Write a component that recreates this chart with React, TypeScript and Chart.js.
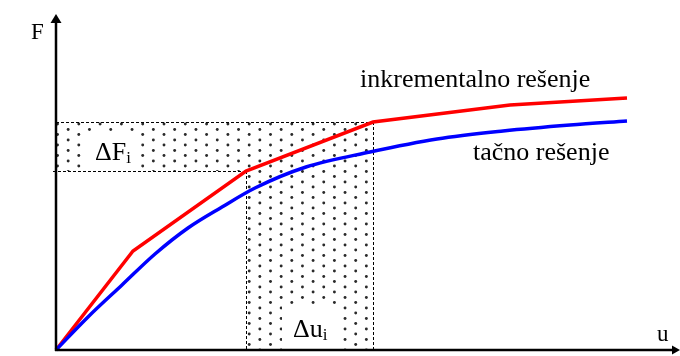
import React, { useEffect, useRef } from "react";
import { Chart, registerables } from "chart.js";

Chart.register(...registerables);

// Incremental (piecewise linear) solution: displacement u, force F
const redU = [0, 77, 190, 317, 454, 571];
const redF = [0, 99, 179, 228, 245, 252];

// Exact solution (smooth curve)
const blueU = [0, 32, 66, 99, 132, 166, 199, 250, 314, 381, 447, 514, 571];
const blueF = [0, 33, 65, 96, 122, 143, 162, 183, 198, 211, 219, 225, 229];

// Axis extents
const uMax = 624;
const fMax = 336;

// Highlighted increment step (index into redU/redF)
const stepIndex = 2;

// Texts
const curveLabels = ["inkrementalno rešenje", "tačno rešenje"];
const axisLabels = ["F", "u"];
const deltaLabels = ["ΔF", "Δu"];
const subscript = "i";

const SERIF = "'Liberation Serif', 'Times New Roman', serif";

export default function App() {
  const ref = useRef<HTMLCanvasElement>(null);

  useEffect(() => {
    document.body.style.margin = "0";
    const canvas = ref.current!;

    const decor = {
      id: "decor",
      beforeDatasetsDraw(chart: any) {
        const ctx = chart.ctx as CanvasRenderingContext2D;
        const xs = chart.scales.x;
        const ys = chart.scales.y;
        const x0 = xs.getPixelForValue(0);
        const y0 = ys.getPixelForValue(0);
        const xa = xs.getPixelForValue(redU[stepIndex]);
        const xb = xs.getPixelForValue(redU[stepIndex + 1]);
        const ya = ys.getPixelForValue(redF[stepIndex]);
        const yb = ys.getPixelForValue(redF[stepIndex + 1]);

        // dotted fill
        ctx.save();
        ctx.beginPath();
        ctx.rect(x0, yb, xb - x0, ya - yb);
        ctx.rect(xa, ya, xb - xa, y0 - ya);
        ctx.clip();
        ctx.fillStyle = "#2a2a2a";
        const sx = 10.65;
        const sy = 10.5;
        let col = 0;
        for (let x = x0 + 1.5; x < xb + 2; x += sx, col++) {
          const phase = col % 2 === 0 ? 2 : 7.5;
          for (let y = yb + phase; y < y0 + 2; y += sy) {
            ctx.beginPath();
            ctx.arc(x, y, 1.45, 0, Math.PI * 2);
            ctx.fill();
          }
        }
        ctx.restore();

        // white boxes for labels
        ctx.save();
        ctx.fillStyle = "#ffffff";
        ctx.fillRect(x0 + 26, yb + 9, 58, ya - yb - 9);
        ctx.fillRect(xa + 36, y0 - 45, 56, 45);
        ctx.restore();

        // dashed outline
        ctx.save();
        ctx.strokeStyle = "#000";
        ctx.lineWidth = 1;
        ctx.setLineDash([3, 2]);
        ctx.beginPath();
        ctx.moveTo(x0, yb + 0.5);
        ctx.lineTo(xb, yb + 0.5);
        ctx.moveTo(x0 - 3, ya + 0.5);
        ctx.lineTo(xa, ya + 0.5);
        ctx.moveTo(xa + 0.5, ya);
        ctx.lineTo(xa + 0.5, y0);
        ctx.moveTo(xb + 0.5, yb);
        ctx.lineTo(xb + 0.5, y0);
        ctx.stroke();
        ctx.restore();

        // delta labels
        ctx.save();
        ctx.fillStyle = "#000";
        ctx.textBaseline = "alphabetic";
        ctx.font = `26px ${SERIF}`;
        ctx.fillText(deltaLabels[0], x0 + 39, ya - 11);
        let w = ctx.measureText(deltaLabels[0]).width;
        ctx.font = `17px ${SERIF}`;
        ctx.fillText(subscript, x0 + 39 + w, ya - 8);
        ctx.font = `26px ${SERIF}`;
        ctx.fillText(deltaLabels[1], xa + 47, y0 - 13);
        w = ctx.measureText(deltaLabels[1]).width;
        ctx.font = `17px ${SERIF}`;
        ctx.fillText(subscript, xa + 47 + w, y0 - 10);
        ctx.restore();
      },
      afterDatasetsDraw(chart: any) {
        const ctx = chart.ctx as CanvasRenderingContext2D;
        const xs = chart.scales.x;
        const ys = chart.scales.y;
        const x0 = xs.getPixelForValue(0);
        const y0 = ys.getPixelForValue(0);
        const xEnd = xs.getPixelForValue(uMax);
        const yEnd = ys.getPixelForValue(fMax);

        // axes
        ctx.save();
        ctx.strokeStyle = "#000";
        ctx.fillStyle = "#000";
        ctx.lineWidth = 2.5;
        ctx.beginPath();
        ctx.moveTo(x0, y0 + 1);
        ctx.lineTo(x0, yEnd + 8);
        ctx.moveTo(x0 - 1, y0);
        ctx.lineTo(xEnd - 7, y0);
        ctx.stroke();
        ctx.beginPath();
        ctx.moveTo(x0, yEnd);
        ctx.lineTo(x0 - 5.5, yEnd + 9);
        ctx.lineTo(x0 + 5.5, yEnd + 9);
        ctx.closePath();
        ctx.fill();
        ctx.beginPath();
        ctx.moveTo(xEnd, y0);
        ctx.lineTo(xEnd - 8, y0 - 4.5);
        ctx.lineTo(xEnd - 8, y0 + 4.5);
        ctx.closePath();
        ctx.fill();

        // axis labels
        ctx.textBaseline = "alphabetic";
        ctx.font = `23px ${SERIF}`;
        ctx.fillText(axisLabels[0], x0 - 25, yEnd + 25);
        ctx.fillText(axisLabels[1], xEnd - 23, y0 - 9);

        // curve labels
        ctx.font = `26px ${SERIF}`;
        ctx.fillText(curveLabels[0], xs.getPixelForValue(304), ys.getPixelForValue(263));
        ctx.fillText(curveLabels[1], xs.getPixelForValue(417), ys.getPixelForValue(190));
        ctx.restore();
      },
    };

    const chart = new Chart(canvas, {
      type: "line",
      data: {
        datasets: [
          {
            label: "tačno rešenje",
            data: blueU.map((u, i) => ({ x: u, y: blueF[i] })),
            borderColor: "#0000ff",
            borderWidth: 3.5,
            pointRadius: 0,
            cubicInterpolationMode: "monotone",
            fill: false,
            clip: false as any,
          },
          {
            label: "inkrementalno rešenje",
            data: redU.map((u, i) => ({ x: u, y: redF[i] })),
            borderColor: "#ff0000",
            borderWidth: 3.5,
            pointRadius: 0,
            tension: 0,
            fill: false,
            clip: false as any,
          },
        ],
      },
      options: {
        animation: false,
        responsive: false,
        maintainAspectRatio: false,
        devicePixelRatio: 1,
        layout: { padding: { left: 56, right: 0, top: 14, bottom: 6 } },
        plugins: {
          legend: { display: false },
          tooltip: { enabled: false },
          title: { display: false },
        },
        events: [],
        scales: {
          x: { type: "linear", min: 0, max: uMax, display: false },
          y: { type: "linear", min: 0, max: fMax, display: false },
        },
      },
      plugins: [decor],
    });

    return () => chart.destroy();
  }, []);

  return (
    <div style={{ width: 680, height: 356, background: "#fff" }}>
      <canvas ref={ref} width={680} height={356} style={{ display: "block" }} />
    </div>
  );
}
